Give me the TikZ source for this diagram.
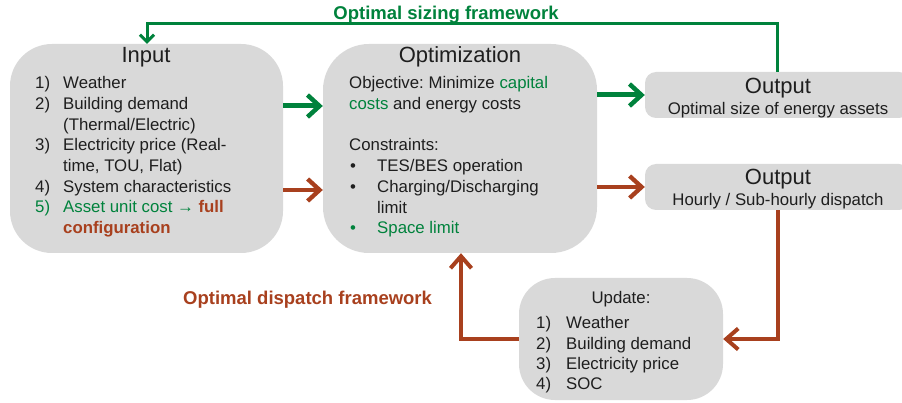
\documentclass[tikz,border=0pt]{standalone}
\usepackage{fontspec}
\setmainfont{Liberation Sans}
\usetikzlibrary{arrows.meta}
\definecolor{boxgray}{HTML}{D9D9D9}
\definecolor{sgreen}{RGB}{0,130,60}
\definecolor{dred}{RGB}{168,64,30}
\definecolor{txt}{HTML}{1E1E1E}
\newcommand\bodyf{\fontsize{16.8}{20}\selectfont}
\newcommand\titlef{\fontsize{22}{26}\selectfont}
\newcommand\lblf{\fontsize{18.5}{22}\selectfont\bfseries}
\frenchspacing
\tikzset{
  box/.style={fill=boxgray, draw=none, inner sep=0pt, rectangle},
  bigbox/.style={box, rounded corners=42pt},
  smallbox/.style={box, rounded corners=11pt},
  tl/.style={anchor=base west, inner sep=0pt, text=txt, font=\bodyf},
  tc/.style={anchor=base, inner sep=0pt, text=txt, font=\bodyf},
  ttl/.style={anchor=base, inner sep=0pt, text=txt, font=\titlef},
  garrow/.style={draw=sgreen, line width=5pt, -{Straight Barb[length=12pt,width=22pt,line width=4.5pt]}},
  rarrow/.style={draw=dred, line width=4.5pt, -{Straight Barb[length=12pt,width=22pt,line width=4.3pt]}},
  gloop/.style={draw=sgreen, line width=3pt, -{Straight Barb[length=7pt,width=14pt,line width=3pt]}},
  rloop/.style={draw=dred, line width=4pt, -{Straight Barb[length=12pt,width=21pt,line width=4pt]}},
}
\begin{document}
\begin{tikzpicture}[x=1pt,y=-1pt]
\useasboundingbox (0,0) rectangle (902,403);
% boxes
\node[bigbox, minimum width=273pt, minimum height=209pt] (inp) at (146.5,148.5) {};
\node[bigbox, minimum width=274pt, minimum height=209pt, rounded corners=46pt] (opt) at (460,148.5) {};
\node[smallbox, minimum width=265pt, minimum height=46pt] (out1) at (777.5,95) {};
\node[smallbox, minimum width=265pt, minimum height=46pt] (out2) at (777.5,187) {};
\node[bigbox, minimum width=204pt, minimum height=122pt, rounded corners=36pt] (upd) at (621,339) {};

% Input text
\node[ttl] (inpT) at (146,63) {Input};
\node[tl] (i1n) at (35,89) {1)};   \node[tl] (i1) at (63,89) {Weather};
\node[tl] (i2n) at (35,110) {2)};  \node[tl] (i2) at (63,110) {Building demand};
\node[tl] (i2b) at (63,131) {(Thermal/Electric)};
\node[tl] (i3n) at (35,151) {3)};  \node[tl] (i3) at (63,151) {Electricity price (Real-};
\node[tl] (i3b) at (63,172) {time, TOU, Flat)};
\node[tl] (i4n) at (35,193) {4)};  \node[tl] (i4) at (63,193) {System characteristics};
\node[tl, text=sgreen] (i5n) at (35,213) {5)};
\node[tl, text=sgreen] (i5) at (63,213) {Asset unit cost → \textcolor{dred}{\bfseries full}};
\node[tl, text=dred, font=\bodyf\bfseries] (i5b) at (63,234) {configuration};

% Optimization text
\node[ttl] (optT) at (460,63) {Optimization};
\node[tl] (o1) at (349,89) {Objective: Minimize \textcolor{sgreen}{capital}};
\node[tl] (o2) at (349,110) {\textcolor{sgreen}{costs} and energy costs};
\node[tl] (o3) at (349,151) {Constraints:};
\node[tl] (b1) at (350,172) {\textbullet};  \node[tl] (o4) at (377,172) {TES/BES operation};
\node[tl] (b2) at (350,193) {\textbullet};  \node[tl] (o5) at (377,193) {Charging/Discharging};
\node[tl] (o5b) at (377,214) {limit};
\node[tl, text=sgreen] (b3) at (350,234) {\textbullet};
\node[tl, text=sgreen] (o6) at (377,234) {Space limit};

% Outputs
\node[ttl] (out1T) at (778,94) {Output};
\node[tc] (out1S) at (778,115) {Optimal size of energy assets};
\node[ttl] (out2T) at (778,185) {Output};
\node[tc] (out2S) at (778,206) {Hourly / Sub-hourly dispatch};

% Update
\node[tc] (updT) at (621,304) {Update:};
\node[tl] (u1n) at (536,328) {1)}; \node[tl] (u1) at (566,328) {Weather};
\node[tl] (u2n) at (536,349) {2)}; \node[tl] (u2) at (566,349) {Building demand};
\node[tl] (u3n) at (536,369) {3)}; \node[tl] (u3) at (566,369) {Electricity price};
\node[tl] (u4n) at (536,389) {4)}; \node[tl] (u4) at (566,389) {SOC};

% labels
\node[anchor=base, inner sep=0pt, text=sgreen, font=\lblf] (szl) at (446,20) {Optimal sizing framework};
\node[anchor=base west, inner sep=0pt, text=dred, font=\lblf] (dpl) at (183,305) {Optimal dispatch framework};

% connectors
\draw[gloop] (out1.north) -- ([yshift=48pt]out1.north) -| ([xshift=0.5pt]inp.north);
\draw[garrow] ([yshift=42.5pt]inp.east) -- ([yshift=42.5pt]opt.west);
\draw[rarrow] ([yshift=-41.5pt]inp.east) -- ([yshift=-41.5pt]opt.west);
\draw[garrow] ([yshift=53.5pt]opt.east) -- (out1.west);
\draw[rarrow] ([yshift=-38.5pt]opt.east) -- (out2.west);
\draw[rloop] ([xshift=0.5pt]out2.south) |- (upd.east);
\draw[rloop] (upd.west) -| ([xshift=1pt]opt.south);
\end{tikzpicture}
\end{document}
